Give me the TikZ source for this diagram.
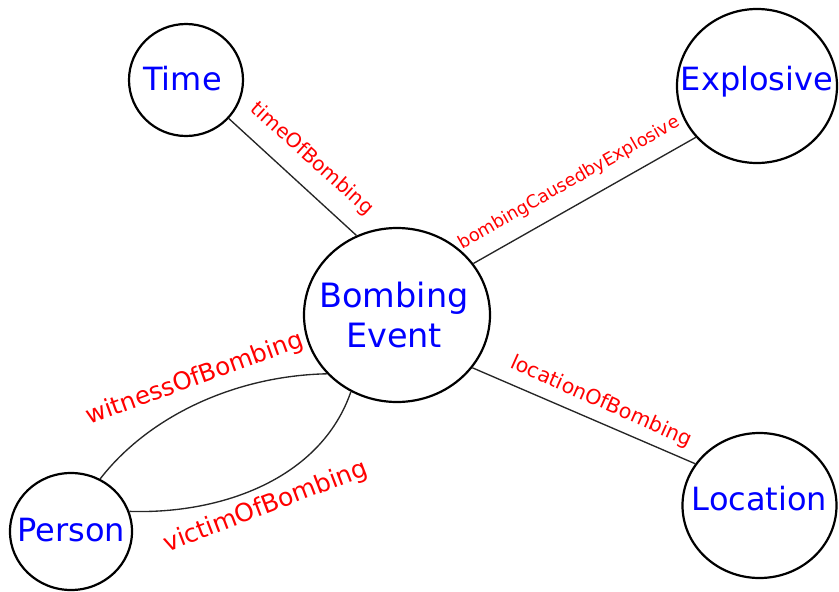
\documentclass[tikz,border=0pt]{standalone}
\usepackage{fontspec}
\setmainfont{DejaVu Sans}
\usetikzlibrary{shapes.geometric}
\begin{document}
\begin{tikzpicture}[x=1pt,y=-1pt,
  concept/.style={ellipse, draw=black, line width=2.2pt, inner sep=0pt},
  conceptname/.style={text=blue, inner sep=0pt, font=\fontsize{32}{40}\selectfont},
  relation/.style={text=red, inner sep=0pt},
  link/.style={draw=black!85, line width=1.35pt}]
  \useasboundingbox (0,0) rectangle (839,592);

  % concepts
  \node[concept, minimum width=114, minimum height=112] (time) at (186,80) {};
  \node[concept, minimum width=160, minimum height=154] (expl) at (757,86) {};
  \node[concept, minimum width=186, minimum height=174] (bomb) at (397,315) {};
  \node[concept, minimum width=122, minimum height=117] (person) at (71,531.5) {};
  \node[concept, minimum width=154, minimum height=145] (loc) at (759.5,505.5) {};

  % concept names
  \node[conceptname, anchor=base] (timeT) at (182.5,90) {Time};
  \node[conceptname, anchor=base] (explT) at (757,90) {Explosive};
  \node[conceptname, align=center, font=\fontsize{33.5}{40}\selectfont] (bombT) at (394,315) {Bombing\\Event};
  \node[conceptname, anchor=base] (personT) at (71.5,541.5) {Person};
  \node[conceptname, anchor=base] (locT) at (759.5,510.5) {Location};

  % relations
  \draw[link] (time.-42) -- (bomb.117);
  \draw[link] (bomb.34) -- (expl.220);
  \draw[link] (bomb.-35) -- (loc.147);
  \draw[link] (person.61) .. controls +(48,-62) and +(-93,2) .. (bomb.220);
  \draw[link] (person.19) .. controls +(92,3) and +(-30,87) .. (bomb.239);

  % relation names
  \node[relation, rotate=-42, font=\fontsize{20}{24}\selectfont] (timeL) at (312,159) {timeOfBombing};
  \node[relation, rotate=29.5, font=\fontsize{17.8}{21}\selectfont] (explL) at (569,183) {bombingCausedbyExplosive};
  \node[relation, rotate=-24, font=\fontsize{20.5}{24}\selectfont] (locL) at (601,402) {locationOfBombing};
  \node[relation, rotate=20, font=\fontsize{24.5}{28}\selectfont] (witL) at (195,379) {witnessOfBombing};
  \node[relation, rotate=21, font=\fontsize{25}{28}\selectfont] (vicL) at (266,507) {victimOfBombing};
\end{tikzpicture}
\end{document}
